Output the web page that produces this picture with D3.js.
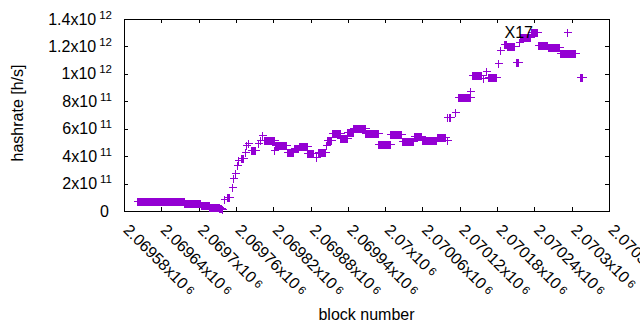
<!DOCTYPE html>
<html>
<head>
<meta charset="utf-8">
<style>
    body { margin: 0; background: #fff; }
    svg { display: block; font-family: "Liberation Sans", Arial, sans-serif; }
    .axis .domain { display: none; }
    .axis line { stroke: #000; }
    .lbl { fill: #000; font-size: 16px; }
</style>
</head>
<body>
<svg width="640" height="330"></svg>
<script src="https://d3js.org/d3.v7.min.js"></script>
<script>

    // x axis ticks (block number) and y axis ticks (hashrate)
    var xTicks = [2069580, 2069640, 2069700, 2069760, 2069820, 2069880, 2069940,
                  2070000, 2070060, 2070120, 2070180, 2070240, 2070300, 2070360];
    var yTicks = [0, 2e11, 4e11, 6e11, 8e11, 1e12, 1.2e12, 1.4e12];

    // runs of consecutive blocks sharing one hashrate: [first block, last block, h/s]
    var blockRuns = [
        [2069601, 2069676, 7.3e10],
        [2069677, 2069703, 5.5e10],
        [2069704, 2069716, 4.7e10],
        [2069717, 2069732, 3.1e10],
        [2069733, 2069736, 2.0e10],
        [2069737, 2069738, 1.1e10],
        [2069741, 2069741, 8.5e10],
        [2069745, 2069749, 1.0e11],
        [2069753, 2069753, 1.77e11],
        [2069756, 2069756, 2.38e11],
        [2069758, 2069758, 2.75e11],
        [2069762, 2069762, 3.35e11],
        [2069764, 2069764, 3.72e11],
        [2069768, 2069771, 3.84e11],
        [2069774, 2069774, 4.32e11],
        [2069777, 2069777, 4.81e11],
        [2069779, 2069779, 4.94e11],
        [2069784, 2069790, 4.45e11],
        [2069796, 2069796, 4.94e11],
        [2069799, 2069799, 5.18e11],
        [2069802, 2069802, 5.54e11],
        [2069805, 2069821, 5.18e11],
        [2069822, 2069822, 4.45e11],
        [2069823, 2069841, 4.81e11],
        [2069842, 2069852, 4.30e11],
        [2069853, 2069860, 4.57e11],
        [2069861, 2069874, 4.74e11],
        [2069875, 2069884, 4.21e11],
        [2069888, 2069888, 3.96e11],
        [2069892, 2069903, 4.32e11],
        [2069905, 2069905, 4.81e11],
        [2069906, 2069913, 5.18e11],
        [2069914, 2069927, 5.67e11],
        [2069928, 2069938, 5.35e11],
        [2069939, 2069948, 5.78e11],
        [2069949, 2069967, 6.07e11],
        [2069968, 2069988, 5.67e11],
        [2069989, 2070007, 4.86e11],
        [2070008, 2070026, 5.59e11],
        [2070027, 2070045, 5.13e11],
        [2070046, 2070058, 5.49e11],
        [2070059, 2070082, 5.21e11],
        [2070083, 2070096, 5.37e11],
        [2070099, 2070099, 5.18e11],
        [2070100, 2070100, 6.88e11],
        [2070102, 2070105, 6.83e11],
        [2070112, 2070112, 7.24e11],
        [2070117, 2070136, 8.28e11],
        [2070137, 2070137, 8.75e11],
        [2070139, 2070154, 9.92e11],
        [2070157, 2070157, 9.68e11],
        [2070162, 2070162, 1.021e12],
        [2070166, 2070178, 9.79e11],
        [2070182, 2070182, 1.077e12],
        [2070184, 2070184, 1.174e12],
        [2070191, 2070195, 1.216e12],
        [2070196, 2070208, 1.203e12],
        [2070210, 2070213, 1.09e12],
        [2070216, 2070216, 1.235e12],
        [2070217, 2070233, 1.267e12],
        [2070234, 2070245, 1.303e12],
        [2070246, 2070261, 1.21e12],
        [2070262, 2070280, 1.194e12],
        [2070281, 2070292, 1.15e12],
        [2070293, 2070293, 1.303e12],
        [2070294, 2070305, 1.15e12],
        [2070314, 2070316, 9.79e11]
    ];

    var markLabel = {text: "X17", block: 2070192, h: 1.3e12};

    var svg = d3.select("svg"),
        margin = {top: 19, right: 31, bottom: 119, left: 124},
        width = +svg.attr("width") - margin.left - margin.right,
        height = +svg.attr("height") - margin.top - margin.bottom;

    var x = d3.scaleLinear().domain([2069580, 2070360]).range([margin.left, margin.left + width]);
    var y = d3.scaleLinear().domain([0, 1.4e12]).range([margin.top + height, margin.top]);

    // points: one per block in every run
    var points = [];
    blockRuns.forEach(function(r) {
        for (var b = r[0]; b <= r[1]; b++) points.push({block: b, h: r[2]});
    });

    // mantissa x10^exp split for gnuplot-like labels
    function sci(v, fix) {
        if (v === 0) return null;
        var e = Math.floor(Math.log10(v) + 1e-9);
        var m = +(v / Math.pow(10, e)).toFixed(fix);
        return {m: String(m), e: e};
    }

    // axes, ticks pointing inward and mirrored
    var bottom = svg.append("g").attr("class", "axis")
        .attr("transform", "translate(0," + (margin.top + height) + ")")
        .call(d3.axisBottom(x).tickValues(xTicks).tickSizeInner(-4).tickSizeOuter(0).tickFormat(""));
    svg.append("g").attr("class", "axis")
        .attr("transform", "translate(0," + margin.top + ")")
        .call(d3.axisTop(x).tickValues(xTicks).tickSizeInner(-4).tickSizeOuter(0).tickFormat(""));
    var left = svg.append("g").attr("class", "axis")
        .attr("transform", "translate(" + margin.left + ",0)")
        .call(d3.axisLeft(y).tickValues(yTicks).tickSizeInner(-4).tickSizeOuter(0).tickFormat(""));
    svg.append("g").attr("class", "axis")
        .attr("transform", "translate(" + (margin.left + width) + ",0)")
        .call(d3.axisRight(y).tickValues(yTicks).tickSizeInner(-4).tickSizeOuter(0).tickFormat(""));

    svg.selectAll(".axis line").attr("shape-rendering", "crispEdges");

    left.selectAll(".tick").each(function(d) {
        var s = sci(d, 1);
        var t = d3.select(this).append("text").attr("class", "lbl")
            .attr("text-anchor", "end").attr("dy", "0.32em");
        if (!s) { t.attr("x", -15).text("0"); return; }
        t.attr("x", -12);
        t.append("tspan").text(s.m + "x10");
        t.append("tspan").attr("dx", 3).attr("dy", -6).style("font-size", "11.5px").text(s.e);
    });

    bottom.selectAll(".tick").each(function(d) {
        var s = sci(d, 5);
        var t = d3.select(this).append("text").attr("class", "lbl")
            .attr("text-anchor", "start")
            .attr("transform", "translate(-2,20) rotate(45)");
        t.append("tspan").text(s.m + "x10");
        t.append("tspan").attr("dx", 3).attr("dy", -2).style("font-size", "11.5px").text(s.e);
    });

    // plot border
    svg.append("rect")
        .attr("x", margin.left + 0.5).attr("y", margin.top + 0.5)
        .attr("width", width).attr("height", height)
        .attr("fill", "none").attr("stroke", "#000").attr("shape-rendering", "crispEdges");

    // data marks
    svg.append("g")
        .attr("stroke", "#9400d3").attr("fill", "none").attr("shape-rendering", "crispEdges")
        .selectAll("path")
        .data(points)
        .enter().append("path")
        .attr("transform", function(d) { return "translate(" + Math.round(x(d.block)) + "," + Math.round(y(d.h)) + ")"; })
        .attr("d", "M-3.5,0.5H4.5M0.5,-3.5V4.5");

    svg.append("text").attr("class", "lbl")
        .attr("x", x(markLabel.block)).attr("y", y(markLabel.h)).attr("dy", "0.3em")
        .text(markLabel.text);

    // axis titles
    svg.append("text").attr("class", "lbl")
        .attr("transform", "translate(23,113) rotate(-90)")
        .attr("text-anchor", "middle")
        .text("hashrate [h/s]");

    svg.append("text").attr("class", "lbl")
        .attr("x", margin.left + width / 2).attr("y", 320)
        .attr("text-anchor", "middle")
        .text("block number");

</script>
</body>
</html>
